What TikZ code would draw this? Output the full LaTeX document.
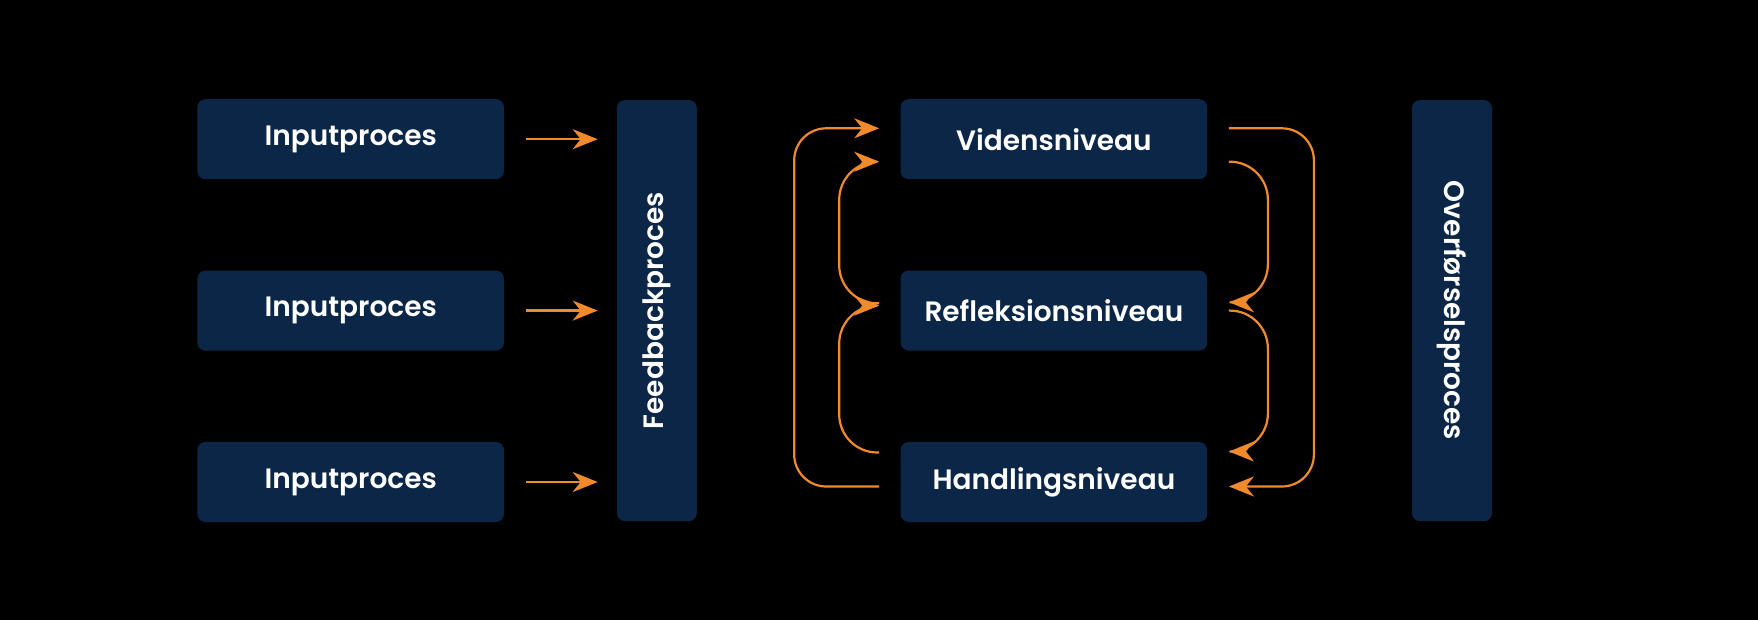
\documentclass[tikz,border=0pt]{standalone}
\usepackage{fontspec}
\setmainfont{Poppins}[BoldFont={* SemiBold}]
\definecolor{boxNavy}{HTML}{0B2646}
\definecolor{accentOrange}{HTML}{F08A2A}
\usetikzlibrary{positioning, arrows.meta, bending}

\begin{document}
\begin{tikzpicture}[x=0.5pt, y=-0.5pt,
    block/.style={rounded corners=4pt, fill=boxNavy, text=white, inner sep=0pt,
      font=\fontsize{14}{17}\selectfont\bfseries, align=center,
      minimum width=153.3pt, minimum height=40pt},
    tall/.style={block, minimum width=40pt, minimum height=210.5pt},
    flow/.style={-{Stealth[length=12.5pt, width=10pt, inset=4pt]}, accentOrange, line width=1.1pt},
    loopflow/.style={flow, rounded corners=16pt},
    innerflow/.style={accentOrange, line width=1.1pt, rounded corners=19pt,
      -{Stealth[length=12.5pt, width=10pt, inset=4pt, bend]}},
    node distance=45.3pt
  ]
  \fill[black] (0,0) rectangle (1758,620);
  \useasboundingbox (0,0) rectangle (1758,620);

  % Input blocks
  \node[block] (in1) at (350.7,139.2) {Inputproces};
  \node[block, below=of in1] (in2) {Inputproces};
  \node[block, below=of in2] (in3) {Inputproces};

  % Feedback column
  \node[tall, right=56pt of in2] (fb) {\rotatebox{90}{Feedbackproces}};

  % Levels
  \node[block, right=101.5pt of fb] (ref) {Refleksionsniveau};
  \node[block] (vid) at (ref |- in1) {Vidensniveau};
  \node[block] (han) at (ref |- in3) {Handlingsniveau};

  % Transfer column
  \node[tall, right=102pt of ref] (ov) {\rotatebox{-90}{Overførselsproces}};

  \foreach \i in {1,2,3}
    \draw[flow, shorten <=11pt, shorten >=9.35pt] (in\i.east) -- (in\i.east -| fb.west);

  % left loops (upwards)
  \draw[loopflow] ([xshift=-10.5pt, yshift=-2.25pt]han.west) -- ++(-42.5pt,0)
    |- ([xshift=-10.5pt, yshift=5.45pt]vid.west);
  \draw[innerflow] ([xshift=-10.5pt, yshift=3.65pt]ref.west) -- ++(-20pt,0)
    |- ([xshift=-10.5pt, yshift=-11.25pt]vid.west);
  \draw[innerflow] ([xshift=-10.5pt, yshift=14.75pt]han.west) -- ++(-20pt,0)
    |- ([xshift=-10.5pt, yshift=2.5pt]ref.west);

  % right loops (downwards)
  \draw[loopflow] ([xshift=10.65pt, yshift=5.45pt]vid.east) -- ++(42.5pt,0)
    |- ([xshift=10.65pt, yshift=-2.25pt]han.east);
  \draw[innerflow] ([xshift=10.65pt, yshift=-11.25pt]vid.east) -- ++(19.5pt,0)
    |- ([xshift=10.65pt, yshift=4.15pt]ref.east);
  \draw[innerflow] ([xshift=10.65pt]ref.east) -- ++(19.5pt,0)
    |- ([xshift=10.65pt, yshift=15.25pt]han.east);
\end{tikzpicture}
\end{document}
